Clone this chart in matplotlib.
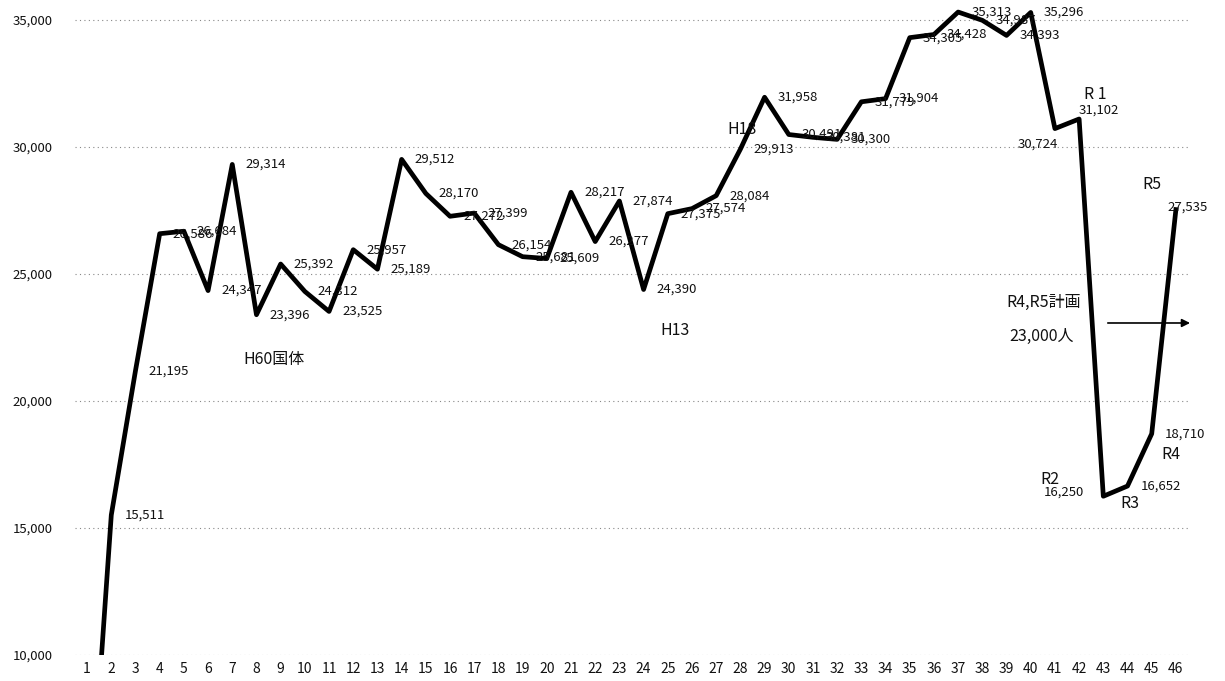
import matplotlib
matplotlib.use("Agg")
import matplotlib.pyplot as plt

plt.rcParams['font.family'] = ['Noto Sans CJK JP', 'DejaVu Sans']

# 年度番号 1..46 と人数
years = list(range(1, 47))
visitors = [1800, 15511, 21195, 26586, 26684, 24347, 29314, 23396, 25392, 24312,
            23525, 25957, 25189, 29512, 28170, 27272, 27399, 26154, 25681, 25609,
            28217, 26277, 27874, 24390, 27375, 27574, 28084, 29913, 31958, 30491,
            30381, 30300, 31779, 31904, 34305, 34428, 35313, 34987, 34393, 35296,
            30724, 31102, 16250, 16652, 18710, 27535]
y_ticks = [10000, 15000, 20000, 25000, 30000, 35000]

# labels that were moved by hand in the original (year: ha, dx, dy in pixels)
moved = {41: ('right', 3, -16), 42: ('left', 0, 9), 43: ('right', -19, 4), 46: ('left', -8, 2)}

# free text notes: (text, x, y)
notes = [("H60国体", 7.45, 21614), ("H13", 24.7, 22795), ("H18", 27.45, 30669),
         ("R 1", 42.2, 32047), ("R2", 40.4, 16890), ("R3", 43.7, 15984),
         ("R4", 45.4, 17874), ("R5", 44.6, 28543),
         ("R4,R5計画", 39.0, 23898), ("23,000人", 39.1, 22559)]

fig = plt.figure(figsize=(12.25, 6.81), dpi=100)
ax = fig.add_axes([75 / 1225, 26 / 681, (1188 - 75) / 1225, 655 / 681])

ax.plot(years, visitors, color="black", lw=3.4, solid_joinstyle="round")

for x, v in zip(years, visitors):
    ha, dx, dy = moved.get(x, ('left', 13, 0))
    ax.annotate(f"{v:,}", (x, v), xytext=(dx, dy), textcoords="offset pixels",
                ha=ha, va="center", fontsize=9.5, color="#111111")

for t, x, y in notes:
    ax.text(x, y, t, fontsize=11.5, va="center", ha="left", color="#111111")

ax.annotate("", xy=(46.7, 23071), xytext=(43.07, 23071),
            arrowprops=dict(arrowstyle="-|>", color="black", lw=1.2, mutation_scale=12),
            annotation_clip=False)

ax.set_xlim(0.5, 46.5)
ax.set_ylim(10000, 35787)
ax.set_xticks(years)
ax.set_yticks(y_ticks)
ax.set_yticklabels([f"{t:,}" for t in y_ticks])
ax.tick_params(length=0, labelsize=9.5, colors="#111111")
ax.tick_params(axis='y', pad=16)
ax.tick_params(axis='x', pad=5, labelsize=10)
for s in ax.spines.values():
    s.set_visible(False)
ax.grid(axis='y', color="#888888", linestyle=(0, (1, 3)), lw=0.8)
ax.set_axisbelow(True)

plt.savefig("out.png", dpi=100)
